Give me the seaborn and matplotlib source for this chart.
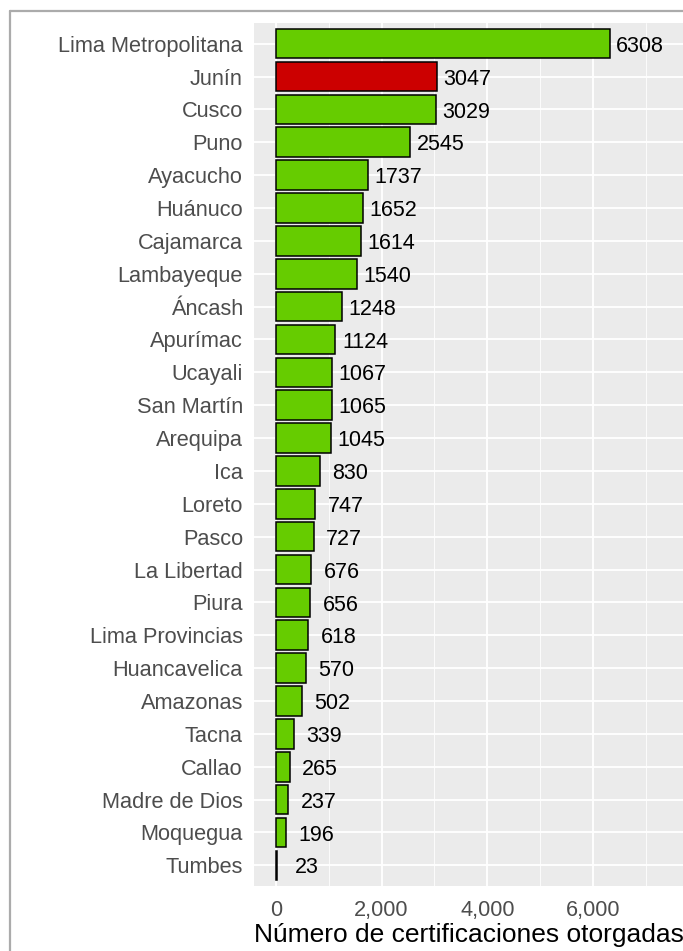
import matplotlib
matplotlib.use("Agg")
import matplotlib.pyplot as plt
import seaborn as sns
import pandas as pd
from matplotlib.lines import Line2D
from matplotlib.ticker import FixedLocator

regions = ["Lima Metropolitana", "Junín", "Cusco", "Puno", "Ayacucho", "Huánuco",
           "Cajamarca", "Lambayeque", "Áncash", "Apurímac", "Ucayali", "San Martín",
           "Arequipa", "Ica", "Loreto", "Pasco", "La Libertad", "Piura",
           "Lima Provincias", "Huancavelica", "Amazonas", "Tacna", "Callao",
           "Madre de Dios", "Moquegua", "Tumbes"]
values = [6308, 3047, 3029, 2545, 1737, 1652, 1614, 1540, 1248, 1124, 1067, 1065,
          1045, 830, 747, 727, 676, 656, 618, 570, 502, 339, 265, 237, 196, 23]
highlight = ["Junín"]
x_ticks = [0, 2000, 4000, 6000]
x_tick_labels = ["0", "2,000", "4,000", "6,000"]
x_title = "Número de certificaciones otorgadas"

df = pd.DataFrame({"region": regions, "value": values})
df["grupo"] = ["alto" if r in highlight else "normal" for r in regions]

sns.set_theme(style="darkgrid")
plt.rcParams["font.family"] = ["Liberation Sans", "DejaVu Sans"]

W, H = 683, 951
fig = plt.figure(figsize=(W / 100, H / 100), dpi=100)
ax = fig.add_axes([254 / W, 1 - 885.7 / H, 1 - 254 / W, (885.7 - 23.3) / H])

sns.barplot(data=df, x="value", y="region", hue="grupo",
            palette={"normal": "#66CC00", "alto": "#CC0000"}, saturation=1,
            dodge=False, width=0.9, edgecolor="black", linewidth=1.1,
            legend=False, ax=ax, zorder=3)

ax.set_facecolor("#EBEBEB")
ax.set_xlim(-410, 7695)
ax.set_ylim(len(regions) - 1 + 0.62, -0.62)
for s in ax.spines.values():
    s.set_visible(False)

ax.xaxis.set_major_locator(FixedLocator(x_ticks))
ax.set_xticklabels(x_tick_labels)
ax.xaxis.set_minor_locator(FixedLocator([1000, 3000, 5000, 7000]))
ax.grid(False)
ax.grid(True, which="major", axis="both", color="white", linewidth=1.3, zorder=0)
ax.grid(True, which="minor", axis="x", color="white", linewidth=0.6, zorder=0)
ax.set_axisbelow(True)

ax.tick_params(axis="both", which="major", length=4, width=1, color="#333333",
               labelcolor="#4D4D4D", labelsize=15.7, pad=4)
ax.tick_params(axis="x", which="major", pad=6)
ax.tick_params(axis="x", which="minor", length=0)
ax.set_ylabel("")
ax.set_xlabel(x_title, fontsize=19, color="black", labelpad=2)

for i, v in enumerate(values):
    ax.text(v + 570, i + 0.08, str(v), ha="center", va="center", fontsize=15.5,
            color="black", zorder=4)

frame_col = "#ABABAB"
fig.add_artist(Line2D([10 / W, 10 / W], [0, 1 - 11 / H], transform=fig.transFigure,
                      color=frame_col, linewidth=1.6))
fig.add_artist(Line2D([10 / W, 1], [1 - 11 / H, 1 - 11 / H], transform=fig.transFigure,
                      color=frame_col, linewidth=1.6))

fig.savefig("out.png", dpi=100)
